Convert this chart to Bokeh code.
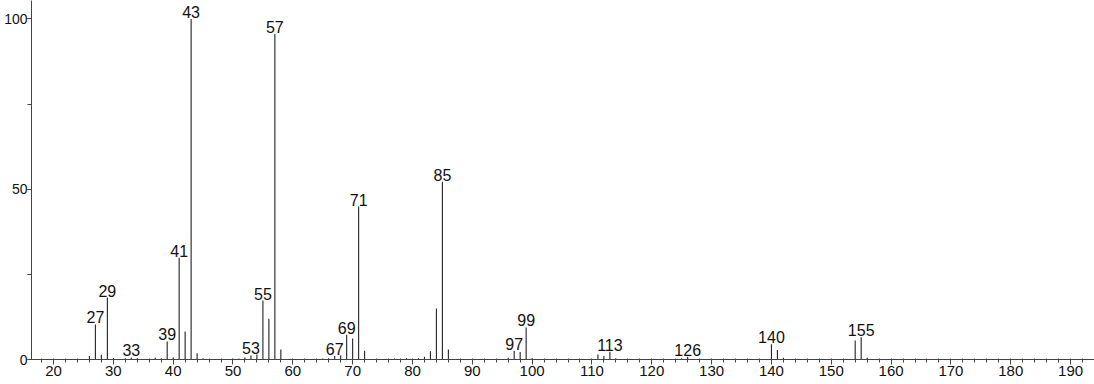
from bokeh.plotting import figure
from bokeh.models import ColumnDataSource, Range1d, SingleIntervalTicker
from bokeh.core.properties import value
from bokeh.embed import file_html
from bokeh.resources import INLINE

# m/z values and relative intensities
mz = [26, 27, 28, 29, 30, 32, 33, 34, 37, 38, 39, 40, 41, 42, 43, 44, 45,
      50, 51, 52, 53, 54, 55, 56, 57, 58, 65, 66, 67, 68, 69, 70, 71, 72,
      77, 79, 81, 82, 83, 84, 85, 86, 96, 97, 98, 99, 100,
      111, 112, 113, 114, 125, 126, 140, 141, 142, 154, 155, 156]
intensity = [1.0, 10.3, 1.4, 18.2, 0.4, 0.4, 0.6, 0.4, 0.5, 0.3, 5.3, 0.6, 29.9, 8.2, 100.0, 1.8, 0.4,
             0.2, 0.3, 0.6, 1.2, 1.5, 17.3, 12.0, 95.6, 2.9, 0.3, 0.4, 1.0, 1.2, 7.3, 6.2, 44.9, 2.6,
             0.3, 0.4, 0.4, 0.8, 2.4, 15.0, 52.2, 2.9, 0.5, 2.6, 2.2, 9.4, 0.4,
             1.5, 1.0, 2.3, 0.3, 0.4, 0.8, 4.5, 2.8, 0.5, 5.6, 6.5, 0.5]
labeled_mz = [27, 29, 33, 39, 41, 43, 53, 55, 57, 67, 69, 71, 85, 97, 99, 113, 126, 140, 155]

lookup = dict(zip(mz, intensity))
lab_y = [lookup[m] for m in labeled_mz]
lab_txt = [str(m) for m in labeled_mz]

FONT = "Liberation Sans"

p = figure(width=1094, height=384, output_backend="svg", toolbar_location=None,
           x_range=Range1d(16.32, 194.0), y_range=Range1d(0, 105.4),
           min_border_left=31, min_border_right=0, min_border_top=0, min_border_bottom=25)
p.outline_line_color = None
p.xgrid.visible = False
p.ygrid.visible = False
p.background_fill_color = "white"
p.border_fill_color = "white"

p.segment(x0=mz, y0=[0] * len(mz), x1=mz, y1=intensity, line_color="#222222", line_width=1.1)

src = ColumnDataSource(dict(x=labeled_mz, y=lab_y, t=lab_txt))
p.text(x="x", y="y", text="t", source=src, text_align="center", text_baseline="bottom",
       y_offset=-1, text_font=value(FONT), text_font_size="16px", text_color="#111111")

p.xaxis.ticker = SingleIntervalTicker(interval=10, num_minor_ticks=5)
p.yaxis.ticker = SingleIntervalTicker(interval=50, num_minor_ticks=2)

for ax in (p.xaxis, p.yaxis):
    ax.axis_line_color = "#444444"
    ax.major_tick_line_color = "#444444"
    ax.minor_tick_line_color = "#444444"
    ax.major_label_text_font = FONT
    ax.major_label_text_color = "#111111"
    ax.major_tick_in = 0

p.xaxis.major_label_text_font_size = "15px"
p.yaxis.major_label_text_font_size = "14px"
p.xaxis.major_tick_out = 5
p.xaxis.minor_tick_in = 1
p.xaxis.minor_tick_out = 3
p.xaxis.major_label_standoff = 1
p.yaxis.major_tick_out = 4
p.yaxis.minor_tick_in = 0
p.yaxis.minor_tick_out = 4
p.yaxis.major_label_standoff = 0

open("out.html", "w").write(file_html(p, INLINE))
